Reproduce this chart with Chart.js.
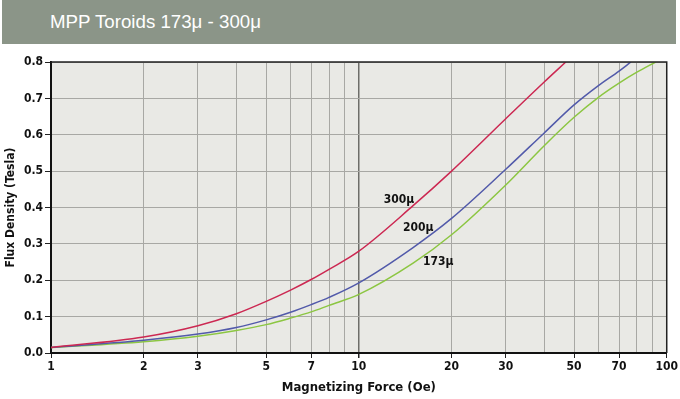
<!DOCTYPE html>
<html>
<head>
<meta charset="utf-8">
<script src="https://cdn.jsdelivr.net/npm/chart.js@4"></script>
<style>
  html, body { margin: 0; padding: 0; background: #fff; }
  #wrap { position: relative; width: 680px; height: 399px; }
  #bar {
    position: absolute; left: 2px; top: 0; width: 674px; height: 44px;
    background: #8b9588; color: #fff;
    font: 18.7px "Liberation Sans", Arial, sans-serif;
    line-height: 44px; padding-left: 48px; box-sizing: border-box;
  }
  canvas { position: absolute; left: 0; top: 0; }
</style>
</head>
<body>
<div id="wrap">
  <div id="bar">MPP Toroids 173μ - 300μ</div>
  <canvas id="myChart" width="680" height="399"></canvas>
</div>
<script>
// magnetizing force (Oe) and flux density (Tesla)
const h300 = [1, 2, 3, 4, 5, 6, 7, 8, 10, 15, 20, 30, 40, 47];
const b300 = [0.015, 0.044, 0.075, 0.108, 0.142, 0.173, 0.202, 0.23, 0.28, 0.405, 0.5, 0.644, 0.745, 0.8];
const h200 = [1, 2, 3, 4, 5, 6, 7, 8, 10, 15, 20, 30, 40, 50, 60, 70, 76.5];
const b200 = [0.015, 0.035, 0.052, 0.07, 0.091, 0.112, 0.133, 0.153, 0.193, 0.29, 0.37, 0.505, 0.605, 0.682, 0.735, 0.775, 0.8];
const h173 = [1, 2, 3, 4, 5, 6, 7, 8, 10, 15, 20, 30, 40, 50, 60, 70, 80, 92];
const b173 = [0.015, 0.031, 0.046, 0.062, 0.078, 0.096, 0.113, 0.131, 0.161, 0.247, 0.325, 0.462, 0.57, 0.648, 0.703, 0.742, 0.772, 0.8];

const seriesNames = ['300μ', '200μ', '173μ'];
const labelH = [13.5, 15.6, 18.1];
const labelB = [0.42, 0.343, 0.251];

const xGridValues = [1, 2, 3, 4, 5, 6, 7, 8, 9, 10, 20, 30, 40, 50, 60, 70, 80, 90, 100];
const xTickLabels = [1, 2, 3, 5, 7, 10, 20, 30, 50, 70, 100];

const narrow = '"Liberation Sans Narrow", "DejaVu Sans Condensed", sans-serif';

function pts(xs, ys) {
  return xs.map((x, i) => ({ x: x, y: ys[i] }));
}

const plotBg = {
  id: 'plotBg',
  beforeDraw(chart) {
    const a = chart.chartArea, ctx = chart.ctx;
    ctx.save();
    ctx.fillStyle = '#e9e9e5';
    ctx.fillRect(a.left, a.top, a.right - a.left, a.bottom - a.top);
    ctx.restore();
  },
  afterDatasetsDraw(chart) {
    const a = chart.chartArea, ctx = chart.ctx;
    ctx.save();
    ctx.strokeStyle = '#222';
    ctx.lineWidth = 1.5;
    ctx.beginPath();
    ctx.moveTo(a.left, a.top); ctx.lineTo(a.right, a.top); ctx.lineTo(a.right, a.bottom);
    ctx.stroke();
    // curve names
    ctx.fillStyle = '#111';
    ctx.font = 'bold 12px ' + narrow;
    ctx.textAlign = 'center';
    ctx.textBaseline = 'middle';
    const xs = chart.scales.x, ys = chart.scales.y;
    seriesNames.forEach((n, i) => {
      ctx.fillText(n, xs.getPixelForValue(labelH[i]), ys.getPixelForValue(labelB[i]));
    });
    ctx.restore();
  }
};

const data = {
  datasets: [
    { label: '300μ', data: pts(h300, b300), borderColor: 'rgb(204,40,82)' },
    { label: '200μ', data: pts(h200, b200), borderColor: 'rgb(82,90,170)' },
    { label: '173μ', data: pts(h173, b173), borderColor: 'rgb(140,198,66)' }
  ]
};

const config = {
  type: 'line',
  data: data,
  options: {
    responsive: false,
    animation: false,
    elements: {
      point: { radius: 0 },
      line: { borderWidth: 1.5, cubicInterpolationMode: 'monotone', fill: false }
    },
    layout: { padding: { top: 62, right: 10, left: 0, bottom: 0 } },
    plugins: { legend: { display: false }, tooltip: { enabled: false } },
    scales: {
      x: {
        type: 'logarithmic',
        min: 1, max: 100,
        afterBuildTicks(scale) {
          scale.ticks = xGridValues.map(v => ({ value: v }));
        },
        afterFit(scale) { scale.height = 46; },
        ticks: {
          autoSkip: false, maxRotation: 0, padding: 2,
          color: '#111',
          font: { family: narrow, size: 12, weight: 'bold' },
          callback: v => (xTickLabels.includes(v) ? String(v) : '')
        },
        grid: {
          color: ctx => (ctx.tick && ctx.tick.value === 10 ? '#6e6e6a' : '#a8a8a4'),
          lineWidth: ctx => (ctx.tick && ctx.tick.value === 10 ? 1.5 : 1),
          tickLength: 5,
          tickColor: ctx => (ctx.tick && xTickLabels.includes(ctx.tick.value) ? '#222' : 'rgba(0,0,0,0)')
        },
        border: { color: '#111', width: 2 },
        title: {
          display: true, text: 'Magnetizing Force (Oe)', color: '#111',
          font: { family: narrow, size: 13, weight: 'bold' },
          padding: { top: 0, bottom: 4 }
        }
      },
      y: {
        min: 0, max: 0.8,
        afterFit(scale) { scale.width = 51; },
        ticks: {
          stepSize: 0.1, padding: 2, color: '#111',
          font: { family: narrow, size: 12, weight: 'bold' },
          callback: v => Number(v).toFixed(1)
        },
        grid: { color: '#a8a8a4', tickLength: 6, tickColor: '#222' },
        border: { color: '#111', width: 2 },
        title: {
          display: true, text: 'Flux Density (Tesla)', color: '#111',
          font: { family: narrow, size: 12, weight: 'bold' },
          padding: { top: 4, bottom: 0 }
        }
      }
    }
  },
  plugins: [plotBg]
};

const myChart = new Chart(document.getElementById('myChart'), config);
</script>
</body>
</html>
